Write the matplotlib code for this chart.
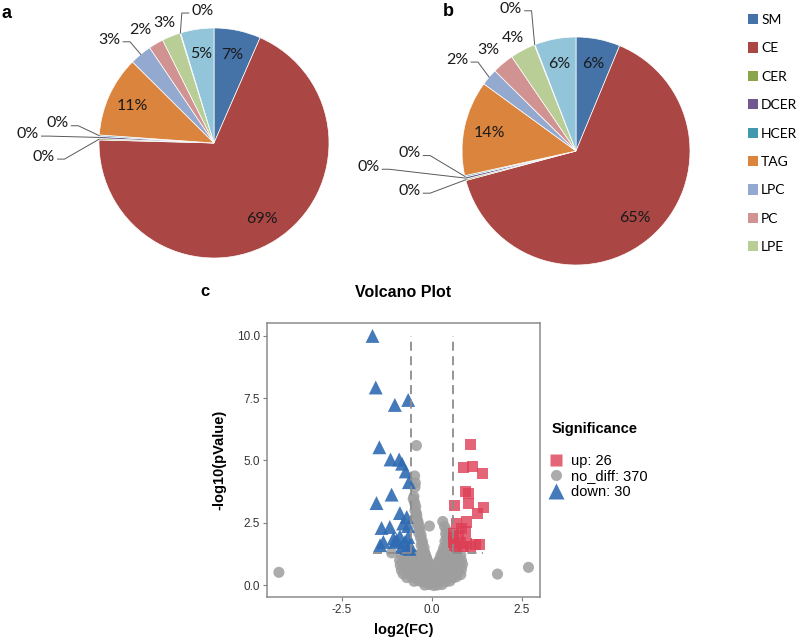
import numpy as np
import matplotlib
matplotlib.use('Agg')
import matplotlib.pyplot as plt
from matplotlib.patches import Patch
from matplotlib.lines import Line2D

# lipid classes shown in the legend (the last two slices' classes are cut off in the source)
classes = ['SM', 'CE', 'CER', 'DCER', 'HCER', 'TAG', 'LPC', 'PC', 'LPE']
share_a = [6.6, 69.2, 0.2, 0.3, 0.2, 11.4, 3.1, 2.1, 2.6, 0.1, 4.7]
share_b = [6.3, 65.1, 0.2, 0.3, 0.2, 13.6, 2.4, 3.1, 3.6, 0.1, 5.9]
pct_a = ['7%', '69%', '0%', '0%', '0%', '11%', '3%', '2%', '3%', '0%', '5%']
pct_b = ['6%', '65%', '0%', '0%', '0%', '14%', '2%', '3%', '4%', '0%', '6%']

# volcano plot points
up_x = [1.06, 0.87, 1.13, 1.41, 0.94, 1.01, 1.02, 0.63, 1.43, 1.26, 0.96, 0.69, 0.82,
        0.94, 0.59, 0.73, 0.59, 0.78, 0.96, 1.22, 1.33, 0.87, 1.06, 0.69, 0.60, 0.62]
up_y = [5.64, 4.73, 4.77, 4.47, 3.76, 3.67, 3.29, 3.20, 3.11, 2.87, 2.53, 2.47, 2.27,
        2.13, 2.07, 2.00, 1.73, 1.69, 1.67, 1.63, 1.63, 1.53, 1.53, 1.53, 1.90, 1.60]
down_x = [-1.65, -1.56, -1.03, -0.66, -1.46, -1.15, -0.91, -0.83, -0.73, -0.64,
          -1.12, -1.54, -0.89, -0.70, -0.80, -1.40, -1.17, -0.66, -1.35, -1.44,
          -1.07, -0.98, -0.89, -0.75, -0.66, -0.84, -0.61, -0.62, -0.70, -1.03]
down_y = [10.0, 7.93, 7.23, 7.43, 5.53, 5.04, 5.04, 4.87, 4.56, 4.13,
          3.63, 3.29, 2.89, 2.73, 2.47, 2.29, 2.33, 2.37, 1.73, 1.60,
          1.87, 1.80, 1.96, 1.73, 1.93, 1.53, 1.60, 1.45, 1.49, 1.73]
nodiff_x = [-4.25, 1.82, 2.68, -0.43, -0.07, -1.12,
            -0.48, -0.46, -0.47, -0.50, -0.52, -0.48, -0.45, -0.47, -0.44, -0.42,
            -0.45, -0.40, -0.38, -0.42, -0.36, -0.33, -0.37, -0.30, -0.32, -0.28,
            -0.26, -0.30, -0.22, -0.25, -0.20, -0.18, -0.15, -0.13, -0.10,
            0.30, 0.35, 0.40, 0.38, 0.42, 0.36, 0.40, 0.33, 0.30, 0.25, 0.22,
            0.18, 0.15, 0.12, 0.08, 0.05,
            -0.85, -0.70, -0.55, -0.45, -0.35,
            -0.90, -0.78, -0.65, -0.52, -0.40, -0.30, -0.20,
            -0.88, -0.75, -0.62, -0.50, -0.38, -0.27, -0.15,
            -0.85, -0.72, -0.60, -0.48, -0.36, -0.24, -0.12,
            -0.80, -0.65, -0.52, -0.40, -0.28, -0.16, -0.05,
            -0.70, -0.55, -0.42, -0.30, -0.18, -0.08, 0.00,
            -0.50, -0.38, -0.25, -0.12, 0.02,
            -0.20, -0.08, 0.05,
            0.45, 0.55, 0.70, 0.80,
            0.30, 0.42, 0.55, 0.68, 0.82,
            0.25, 0.38, 0.50, 0.62, 0.75, 0.85,
            0.20, 0.32, 0.45, 0.58, 0.70, 0.82,
            0.10, 0.22, 0.35, 0.48, 0.60, 0.72, 0.80,
            0.10, 0.20, 0.32, 0.45, 0.58, 0.68,
            0.12, 0.25, 0.38, 0.50,
            0.15, 0.28]
nodiff_y = [0.51, 0.44, 0.71, 5.60, 2.37, 1.29,
            4.38, 4.10, 3.93, 3.55, 3.45, 3.30, 3.15, 3.00, 2.90, 2.80,
            2.70, 2.60, 2.50, 2.45, 2.35, 2.20, 2.10, 2.00, 1.90, 1.80,
            1.70, 1.60, 1.50, 1.40, 1.30, 1.20, 1.10, 1.00, 0.90,
            2.55, 2.35, 2.20, 2.05, 1.90, 1.75, 1.60, 1.50, 1.35, 1.20, 1.05,
            0.95, 0.85, 0.70, 0.55, 0.40,
            1.20, 1.22, 1.18, 1.21, 1.19,
            1.00, 1.02, 0.98, 1.01, 0.99, 1.03, 0.97,
            0.80, 0.82, 0.78, 0.81, 0.79, 0.83, 0.77,
            0.60, 0.62, 0.58, 0.61, 0.59, 0.63, 0.57,
            0.45, 0.47, 0.43, 0.46, 0.44, 0.48, 0.42,
            0.30, 0.32, 0.28, 0.31, 0.29, 0.33, 0.27,
            0.15, 0.17, 0.13, 0.16, 0.14,
            0.00, 0.02, -0.02,
            1.20, 1.22, 1.18, 1.21,
            1.00, 1.02, 0.98, 1.01, 0.99,
            0.80, 0.82, 0.78, 0.81, 0.79, 0.83,
            0.60, 0.62, 0.58, 0.61, 0.59, 0.63,
            0.45, 0.47, 0.43, 0.46, 0.44, 0.48, 0.42,
            0.30, 0.32, 0.28, 0.31, 0.29, 0.33,
            0.15, 0.17, 0.13, 0.16,
            0.00, 0.02]
legend_labels = ['up: 26', 'no_diff: 370', 'down: 30']

pie_colors = ['#4572A7', '#AA4643', '#89A54E', '#71588F', '#4198AF', '#DB843D',
              '#93A9CF', '#D19392', '#B9CD96', '#A99BBD', '#92C5DA']
up_color, nd_color, down_color = '#DC3F55', '#9E9E9E', '#2F6BB3'
pie_font = 'Lato'
sans = 'Liberation Sans'


def draw_pie(ax, shares, labels, outer):
    wedges, _ = ax.pie(shares, colors=pie_colors, startangle=90, counterclock=False,
                       wedgeprops=dict(edgecolor='white', linewidth=0.5))
    ax.set_xlim(-1.3, 1.3)
    ax.set_ylim(-1.3, 1.3)
    ax.set_aspect('equal')
    for i, w in enumerate(wedges):
        mid = np.deg2rad((w.theta1 + w.theta2) / 2)
        if i not in outer:
            ax.text(0.78 * np.cos(mid), 0.78 * np.sin(mid), labels[i], ha='center',
                    va='center', fontsize=11.5, family=pie_font, color='#1a1a1a')
            continue
        tx, ty, side = outer[i]
        ax.text(tx, ty, labels[i], ha='center', va='center', fontsize=11.5,
                family=pie_font, color='#1a1a1a')
        if side == 0:
            continue
        x0 = tx + side * 0.12
        x1 = x0 + side * 0.06
        ex, ey = np.cos(mid), np.sin(mid)
        ax.plot([x0, x1, ex], [ty - 0.02, ty - 0.02, ey], color='#595959',
                lw=0.7, clip_on=False)


fig = plt.figure(figsize=(7.97, 6.4), dpi=100)

# pie a
ax_a = fig.add_axes([64.5 / 797, (640 - 143 - 149.5) / 640, 299 / 797, 299 / 640])
outer_a = {2: (-1.48, -0.12, 1), 3: (-1.62, 0.08, 1), 4: (-1.36, 0.17, 1),
           6: (-0.91, 0.90, 1), 7: (-0.64, 0.98, 0), 8: (-0.43, 1.04, 0),
           9: (-0.10, 1.15, -1)}
draw_pie(ax_a, share_a, pct_a, outer_a)

# pie b
ax_b = fig.add_axes([427.8 / 797, 340.8 / 640, 296.4 / 797, 296.4 / 640])
outer_b = {2: (-1.46, -0.35, 1), 3: (-1.82, -0.14, 1), 4: (-1.46, -0.02, 1),
           6: (-1.04, 0.80, 1), 7: (-0.77, 0.89, 0), 8: (-0.55, 0.99, 0),
           9: (-0.57, 1.25, 1)}
draw_pie(ax_b, share_b, pct_b, outer_b)

handles = [Patch(facecolor=pie_colors[i], edgecolor='none') for i in range(len(classes))]
fig.legend(handles, classes, loc='upper left', bbox_to_anchor=(748 / 797, 1 - 14 / 640),
           frameon=False, prop={'family': pie_font, 'size': 10}, handlelength=0.75,
           handleheight=0.75, handletextpad=0.2, labelspacing=1.18, borderpad=0,
           borderaxespad=0)

fig.text(2 / 797, 1 - 13 / 640, 'a', fontsize=13, fontweight='bold', family=sans,
         va='center')
fig.text(443 / 797, 1 - 11 / 640, 'b', fontsize=13, fontweight='bold', family=sans,
         va='center')
fig.text(200 / 797, 1 - 291 / 640, 'c', fontsize=12, fontweight='bold', family=sans,
         va='center')

# volcano plot
ax = fig.add_axes([267 / 797, 43 / 640, 273 / 797, 274 / 640])
ax.scatter(nodiff_x, nodiff_y, s=8 ** 2, marker='o', color=nd_color, alpha=0.85,
           edgecolors='none', zorder=2)
ax.scatter(up_x, up_y, s=8 ** 2, marker='s', color=up_color, alpha=0.8,
           edgecolors='none', zorder=3)
ax.scatter(down_x, down_y, s=10 ** 2, marker='^', color=down_color, alpha=0.9,
           edgecolors='none', zorder=3)

fc_cut, p_cut = 0.585, 1.3
top = max(max(down_y), max(up_y))
dash = dict(color='#8c8c8c', lw=1.3, linestyles=(0, (5, 3)), zorder=4)
ax.vlines([-fc_cut, fc_cut], p_cut, top, **dash)
ax.hlines(p_cut, min(down_x), -fc_cut, **dash)
ax.hlines(p_cut, fc_cut, max(up_x), **dash)

ax.set_xlim(-4.58, 3.0)
ax.set_ylim(-0.48, 10.52)
ax.set_xticks([-2.5, 0, 2.5])
ax.set_xticklabels(['-2.5', '0.0', '2.5'])
ax.set_yticks([0, 2.5, 5, 7.5, 10])
ax.set_yticklabels(['0.0', '2.5', '5.0', '7.5', '10.0'])
ax.tick_params(length=3, width=0.8, color='#7f7f7f', labelsize=8.5,
               labelcolor='#333333', pad=2)
for lab in ax.get_xticklabels() + ax.get_yticklabels():
    lab.set_family(sans)
for sp in ax.spines.values():
    sp.set_color('#8c8c8c')
    sp.set_linewidth(1.1)

ax.set_xlabel('log2(FC)', fontsize=10.5, fontweight='bold', family=sans)
ax.set_ylabel('-log10(pValue)', fontsize=10.5, fontweight='bold', family=sans)
ax.xaxis.set_label_coords(0.5, -0.095)
ax.yaxis.set_label_coords(-0.147, 0.5)
ax.set_title('Volcano Plot', fontsize=11.5, fontweight='bold', family=sans, pad=19)

fig.text(552 / 797, 1 - 429 / 640, 'Significance', fontsize=10.5, fontweight='bold',
         family=sans, va='center')
vol_handles = [
    Line2D([], [], ls='', marker='s', ms=8, color=up_color, alpha=0.8, mec='none'),
    Line2D([], [], ls='', marker='o', ms=8, color=nd_color, alpha=0.85, mec='none'),
    Line2D([], [], ls='', marker='^', ms=11, color=down_color, alpha=0.9, mec='none'),
]
fig.legend(vol_handles, legend_labels, loc='upper left',
           bbox_to_anchor=(549 / 797, 1 - 454 / 640), frameon=False,
           prop={'family': sans, 'size': 10.5}, handlelength=1.0, handletextpad=0.5,
           labelspacing=0.1, borderpad=0, borderaxespad=0)

fig.savefig('out.png', dpi=100, facecolor='white')
